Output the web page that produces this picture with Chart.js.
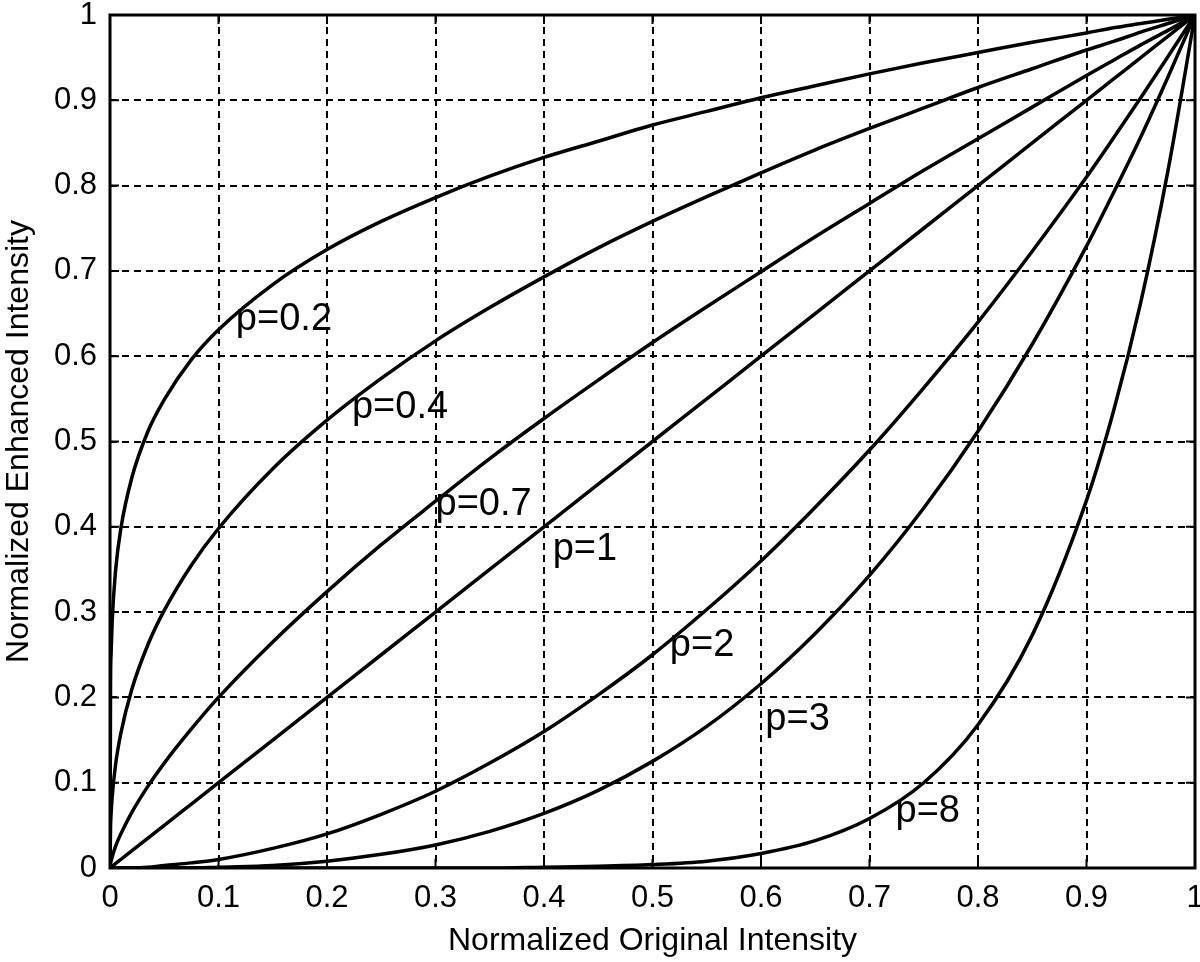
<!DOCTYPE html>
<html>
<head>
<meta charset="utf-8">
<script src="https://cdn.jsdelivr.net/npm/chart.js@4/dist/chart.umd.min.js"></script>
<style>
    html, body { margin: 0; padding: 0; background: #ffffff; }
    #chart { display: block; }
</style>
</head>
<body>
<canvas id="chart" width="1200" height="962"></canvas>
<script>
const xs = [0, 0.0005, 0.001, 0.002, 0.005, 0.01, 0.02, 0.035, 0.05, 0.075, 0.1, 0.15, 0.2, 0.25, 0.3, 0.35,
    0.4, 0.45, 0.5, 0.55, 0.6, 0.65, 0.7, 0.75, 0.8, 0.85, 0.9, 0.925, 0.95, 0.975, 1];

const y_p02 = [0, 0.219, 0.251, 0.289, 0.347, 0.398, 0.457, 0.512, 0.549, 0.596, 0.631, 0.684, 0.725, 0.758, 0.786, 0.811,
    0.833, 0.852, 0.871, 0.887, 0.903, 0.917, 0.931, 0.944, 0.956, 0.968, 0.979, 0.985, 0.990, 0.995, 1];
const y_p04 = [0, 0.048, 0.063, 0.083, 0.120, 0.158, 0.209, 0.262, 0.302, 0.355, 0.398, 0.468, 0.525, 0.574, 0.618, 0.657,
    0.693, 0.727, 0.758, 0.787, 0.815, 0.842, 0.867, 0.891, 0.915, 0.937, 0.959, 0.969, 0.980, 0.990, 1];
const y_p07 = [0, 0.005, 0.008, 0.013, 0.025, 0.040, 0.065, 0.096, 0.123, 0.163, 0.200, 0.265, 0.324, 0.379, 0.430, 0.480,
    0.527, 0.572, 0.616, 0.658, 0.699, 0.740, 0.779, 0.818, 0.855, 0.892, 0.929, 0.947, 0.965, 0.982, 1];
const y_p1 = [0, 0.0005, 0.001, 0.002, 0.005, 0.01, 0.02, 0.035, 0.05, 0.075, 0.1, 0.15, 0.2, 0.25, 0.3, 0.35,
    0.4, 0.45, 0.5, 0.55, 0.6, 0.65, 0.7, 0.75, 0.8, 0.85, 0.9, 0.925, 0.95, 0.975, 1];
const y_p2 = [0, 0, 0, 0, 0, 0, 0, 0.001, 0.003, 0.006, 0.010, 0.023, 0.040, 0.063, 0.090, 0.123,
    0.160, 0.203, 0.250, 0.303, 0.360, 0.423, 0.490, 0.563, 0.640, 0.723, 0.810, 0.856, 0.903, 0.951, 1];
const y_p3 = [0, 0, 0, 0, 0, 0, 0, 0, 0, 0, 0.001, 0.003, 0.008, 0.016, 0.027, 0.043,
    0.064, 0.091, 0.125, 0.166, 0.216, 0.275, 0.343, 0.422, 0.512, 0.614, 0.729, 0.792, 0.857, 0.927, 1];
const y_p8 = [0, 0, 0, 0, 0, 0, 0, 0, 0, 0, 0, 0, 0, 0, 0, 0,
    0.001, 0.002, 0.004, 0.008, 0.017, 0.032, 0.058, 0.100, 0.168, 0.273, 0.431, 0.536, 0.663, 0.817, 1];

const series = [y_p02, y_p04, y_p07, y_p1, y_p2, y_p3, y_p8];

// curve labels, placed by their left edge / vertical middle
const label_text = ['p=0.2', 'p=0.4', 'p=0.7', 'p=1', 'p=2', 'p=3', 'p=8'];
const label_x = [0.116, 0.223, 0.300, 0.408, 0.516, 0.604, 0.724];
const label_y = [0.643, 0.540, 0.426, 0.373, 0.261, 0.174, 0.066];

const tick_values = [0, 0.1, 0.2, 0.3, 0.4, 0.5, 0.6, 0.7, 0.8, 0.9, 1];

const FONT = "'Liberation Sans', Arial, sans-serif";

const frame_plugin = {
    id: 'frame',
    afterDatasetsDraw(chart) {
        const { ctx, chartArea: a, scales } = chart;
        ctx.save();
        ctx.strokeStyle = '#000';
        ctx.lineWidth = 2;
        ctx.setLineDash([]);
        // short ticks pointing inwards on all four sides
        const len = 9;
        tick_values.forEach(v => {
            const px = scales.x.getPixelForValue(v);
            const py = scales.y.getPixelForValue(v);
            ctx.beginPath();
            ctx.moveTo(px, a.bottom); ctx.lineTo(px, a.bottom - len);
            ctx.moveTo(px, a.top); ctx.lineTo(px, a.top + len);
            ctx.moveTo(a.left, py); ctx.lineTo(a.left + len, py);
            ctx.moveTo(a.right, py); ctx.lineTo(a.right - len, py);
            ctx.stroke();
        });
        ctx.lineWidth = 3;
        ctx.strokeRect(a.left, a.top, a.right - a.left, a.bottom - a.top);

        // curve annotations
        ctx.fillStyle = '#000';
        ctx.font = '38px ' + FONT;
        ctx.textAlign = 'left';
        ctx.textBaseline = 'middle';
        label_text.forEach((t, i) => {
            ctx.fillText(t, scales.x.getPixelForValue(label_x[i]), scales.y.getPixelForValue(label_y[i]));
        });
        ctx.restore();
    }
};

const ctx = document.getElementById('chart').getContext('2d');

const chart = new Chart(ctx, {
    type: 'line',
    data: {
        datasets: series.map((ys, i) => ({
            label: label_text[i],
            data: xs.map((x, j) => ({ x, y: ys[j] })),
            borderColor: '#000000',
            borderWidth: 3.5,
            pointRadius: 0,
            fill: false,
            cubicInterpolationMode: 'monotone',
        })),
    },
    options: {
        responsive: false,
        animation: false,
        layout: { padding: { top: 15, right: 5, left: 0, bottom: 0 } },
        scales: {
            x: {
                type: 'linear',
                min: 0,
                max: 1,
                afterBuildTicks: s => { s.ticks = tick_values.map(v => ({ value: v })); },
                afterFit: s => { s.height = 94; s.paddingLeft = 0; s.paddingRight = 0; },
                grid: { color: '#000', lineWidth: 2, drawTicks: false },
                border: { display: false, dash: [7, 5] },
                ticks: {
                    color: '#000',
                    padding: 15,
                    maxRotation: 0,
                    font: { family: FONT, size: 31, lineHeight: 1 },
                    callback: v => String(v),
                },
                title: {
                    display: true,
                    text: 'Normalized Original Intensity',
                    color: '#000',
                    font: { family: FONT, size: 32, lineHeight: 1.2 },
                    padding: { top: 0, bottom: 2 },
                },
            },
            y: {
                type: 'linear',
                min: 0,
                max: 1,
                afterBuildTicks: s => { s.ticks = tick_values.map(v => ({ value: v })); },
                afterFit: s => { s.width = 110; s.paddingTop = 0; s.paddingBottom = 0; },
                grid: { color: '#000', lineWidth: 2, drawTicks: false },
                border: { display: false, dash: [7, 5] },
                ticks: {
                    color: '#000',
                    padding: 13,
                    font: { family: FONT, size: 31, lineHeight: 1 },
                    callback: v => String(v),
                },
                title: {
                    display: true,
                    text: 'Normalized Enhanced Intensity',
                    color: '#000',
                    font: { family: FONT, size: 32, lineHeight: 1.2 },
                    padding: { top: 0, bottom: 0 },
                },
            },
        },
        plugins: {
            legend: { display: false },
            tooltip: { enabled: false },
        },
    },
    plugins: [frame_plugin],
});
</script>
</body>
</html>
